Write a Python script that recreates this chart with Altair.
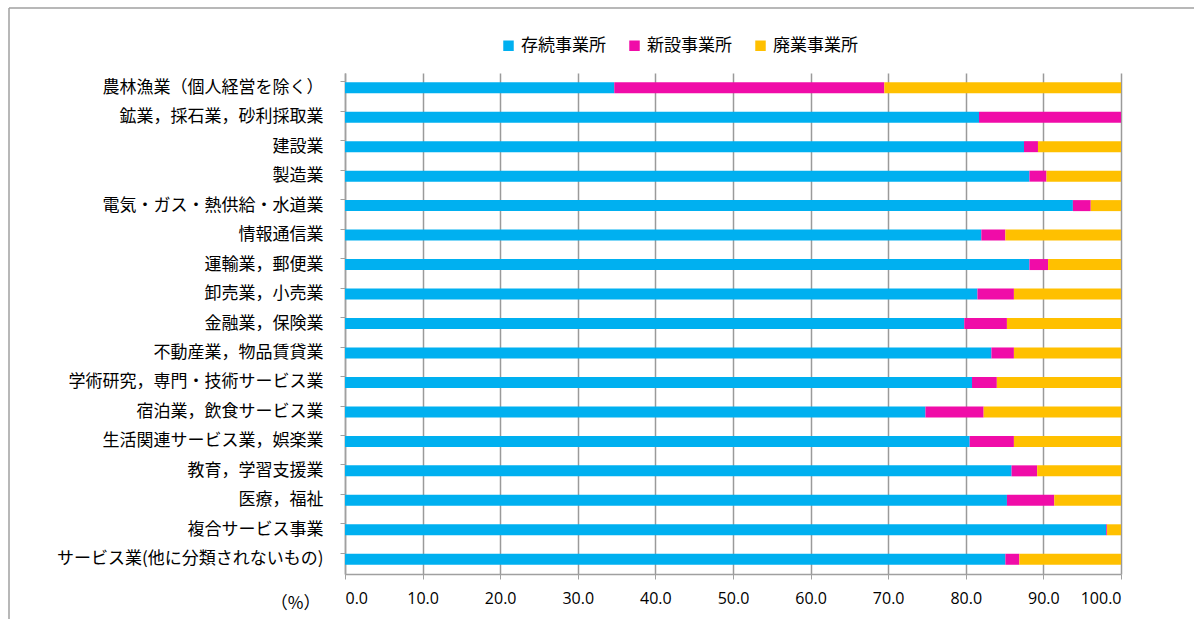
import altair as alt
import pandas as pd

industries = [
    "農林漁業（個人経営を除く）",
    "鉱業，採石業，砂利採取業",
    "建設業",
    "製造業",
    "電気・ガス・熱供給・水道業",
    "情報通信業",
    "運輸業，郵便業",
    "卸売業，小売業",
    "金融業，保険業",
    "不動産業，物品賃貸業",
    "学術研究，専門・技術サービス業",
    "宿泊業，飲食サービス業",
    "生活関連サービス業，娯楽業",
    "教育，学習支援業",
    "医療，福祉",
    "複合サービス事業",
    "サービス業(他に分類されないもの)",
]
series = ["存続事業所", "新設事業所", "廃業事業所"]
colors = ["#00B0F0", "#F00CA8", "#FFC000"]

continuing = [34.7, 81.7, 87.5, 88.2, 93.8, 82.0, 88.2, 81.5, 79.8, 83.3, 80.8, 74.8, 80.5, 85.9, 85.3, 98.1, 85.1]
new = [34.8, 18.3, 1.8, 2.2, 2.3, 3.1, 2.4, 4.7, 5.5, 2.9, 3.2, 7.5, 5.7, 3.3, 6.1, 0.1, 1.8]
closed = [30.5, 0.0, 10.7, 9.6, 3.9, 14.9, 9.4, 13.8, 14.7, 13.8, 16.0, 17.7, 13.8, 10.8, 8.6, 1.8, 13.1]

x_ticks = [0, 10, 20, 30, 40, 50, 60, 70, 80, 90, 100]

rows = []
for i, name in enumerate(industries):
    for j, (s, vals) in enumerate(zip(series, [continuing, new, closed])):
        rows.append({"industry": name, "series": s, "order": j, "value": vals[i]})
df = pd.DataFrame(rows)

FONT_JP = "Noto Sans CJK JP"
W, H = 776, 501

bars = alt.Chart(df).mark_bar(size=11).encode(
    y=alt.Y(
        "industry:N",
        sort=industries,
        scale=alt.Scale(paddingInner=0.6, paddingOuter=0.3),
        axis=alt.Axis(
            title=None,
            labelFont=FONT_JP,
            labelFontSize=17,
            labelColor="#000000",
            labelPadding=17,
            tickSize=5,
            tickColor="#A0A0A0",
            domainColor="#A0A0A0",
            domainWidth=1.5,
            bandPosition=0,
            labelLimit=400,
        ),
    ),
    x=alt.X(
        "value:Q",
        stack="zero",
        scale=alt.Scale(domain=[0, 100], nice=False),
        axis=alt.Axis(
            values=x_ticks,
            format=".1f",
            title="（%）",
            titleFont=FONT_JP,
            titleFontSize=17,
            titleFontWeight="normal",
            titleColor="#000000",
            titleX=-25,
            titleY=29,
            titleAlign="right",
            titleBaseline="middle",
            titleAngle=0,
            labelFont="Open Sans",
            labelFontSize=16,
            labelColor="#000000",
            labelPadding=11,
            tickSize=5,
            tickColor="#A0A0A0",
            domainColor="#A0A0A0",
            domainWidth=1.5,
            grid=True,
            gridColor="#9A9A9A",
            gridWidth=1.5,
        ),
    ),
    color=alt.Color(
        "series:N",
        scale=alt.Scale(domain=series, range=colors),
        legend=alt.Legend(
            title=None,
            orient="none",
            direction="horizontal",
            legendX=155,
            legendY=-36,
            symbolType="square",
            symbolSize=110,
            symbolStrokeWidth=0,
            labelFont=FONT_JP,
            labelFontSize=17,
            labelColor="#000000",
            labelOffset=4,
            columnPadding=20,
        ),
    ),
    order=alt.Order("order:Q"),
)

frame_df = pd.DataFrame({"k": [0]})
frame_top = alt.Chart(frame_df).mark_rule(color="#A0A0A0", strokeWidth=1.5, clip=False).encode(
    x=alt.value(-336), x2=alt.value(W + 80), y=alt.value(-65)
)
frame_left = alt.Chart(frame_df).mark_rule(color="#A0A0A0", strokeWidth=1.5, clip=False).encode(
    x=alt.value(-336), y=alt.value(-65), y2=alt.value(H + 60)
)

chart = alt.layer(bars, frame_top, frame_left).properties(
    width=W,
    height=H,
    padding={"left": 345, "top": 73, "right": 73, "bottom": 45},
    autosize=alt.AutoSizeParams(type="none"),
    background="white",
).configure_view(stroke=None)

chart.save("out.html", embed_options={"renderer": "svg", "actions": False})
